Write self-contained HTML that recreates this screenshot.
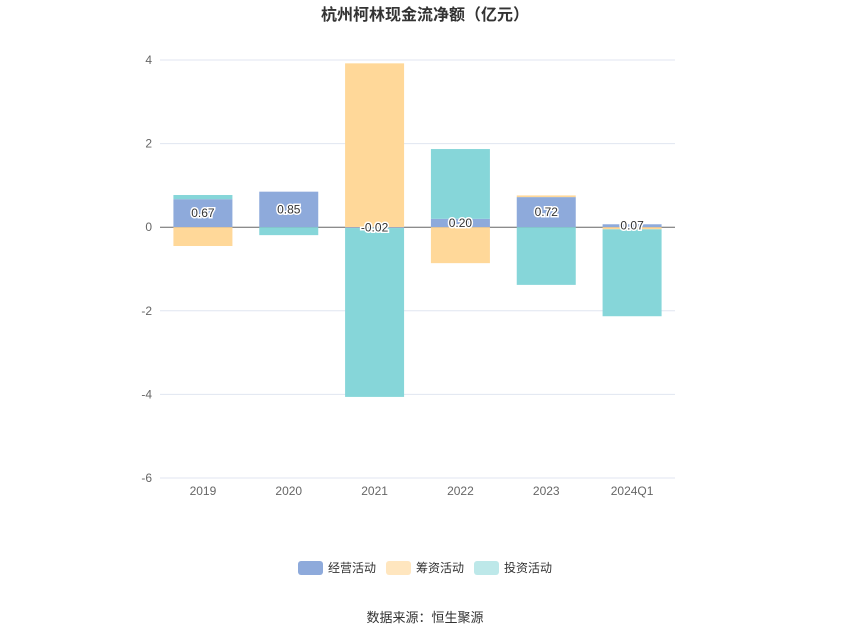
<!DOCTYPE html>
<html><head><meta charset="utf-8"><style>
body{margin:0;background:#fff;font-family:"Liberation Sans","Noto Sans CJK SC",sans-serif;}
</style></head><body>
<svg width="850" height="637" xmlns="http://www.w3.org/2000/svg" font-family="Liberation Sans, Noto Sans CJK SC, sans-serif">
<text x="425" y="20" text-anchor="middle" font-size="16" font-weight="bold" fill="#333">杭州柯林现金流净额（亿元）</text>
<g id="grid"></g><g id="bars"></g><g id="labels"></g>
<g font-size="12" fill="#333">
<g><rect x="298" y="561" width="25" height="14" rx="3" fill="#8eaadb"/><text x="328" y="572">经营活动</text></g>
<g><rect x="386" y="561" width="25" height="14" rx="3" fill="#ffe6bf"/><text x="416" y="572">筹资活动</text></g>
<g><rect x="474" y="561" width="25" height="14" rx="3" fill="#bde8e9"/><text x="504" y="572">投资活动</text></g>
</g>
<text x="425" y="622" text-anchor="middle" font-size="13" fill="#333">数据来源：恒生聚源</text>
</svg>
<script>
const categories=["2019","2020","2021","2022","2023","2024Q1"];
const operating=[0.67,0.85,-0.02,0.20,0.72,0.07];
const financing=[-0.45,0,3.92,-0.86,0.04,-0.05];
const investing=[0.10,-0.19,-4.04,1.67,-1.38,-2.08];
const yTicks=[4,2,0,-2,-4,-6];
const NS="http://www.w3.org/2000/svg";
const x0=160,x1=675,yTop=60,yBot=478,yMax=4,yMin=-6;
const y=v=>yTop+(yMax-v)/(yMax-yMin)*(yBot-yTop);
const band=(x1-x0)/categories.length;
const xc=i=>x0+band*(i+0.5);
function mk(tag,attrs,parent){const e=document.createElementNS(NS,tag);for(const k in attrs)e.setAttribute(k,attrs[k]);parent.appendChild(e);return e;}
const grid=document.getElementById('grid');
yTicks.forEach(t=>{
 const l=mk('line',{x1:x0,x2:x1,y1:y(t),y2:y(t),stroke:t===0?'#666':'#e0e6f1'},grid);
 
 
 const tx=mk('text',{x:152,y:y(t)+4,'text-anchor':'end','font-size':12,fill:'#666'},grid);
 tx.textContent=t;
 
 
});
categories.forEach((c,i)=>{
 const tx=mk('text',{x:xc(i),y:495,'text-anchor':'middle','font-size':12,fill:'#666'},grid);
 tx.textContent=c;
 
 
});
const series=[[operating,'#8eaadb','bar-operating'],[financing,'#ffd899','bar-financing'],[investing,'#86d6d9','bar-investing']];
const bars=document.getElementById('bars');
const bw=59;
categories.forEach((c,i)=>{
 let pos=0,neg=0;
 series.forEach(([arr,col,name])=>{
  const v=arr[i];let a,b;
  if(v>=0){a=pos;b=pos+v;pos=b;}else{a=neg;b=neg+v;neg=b;}
  const top=Math.min(y(a),y(b)),h=Math.abs(y(a)-y(b));
  const r=mk('rect',{x:xc(i)-bw/2,y:top,width:bw,height:h,fill:col},bars);
  
  
 });
 const v=operating[i];
 const t=mk('text',{x:xc(i),y:y(v/2)+4,'text-anchor':'middle','font-size':12,fill:'#333',stroke:'#fff','stroke-width':3,'paint-order':'stroke'},document.getElementById('labels'));
 t.textContent=v.toFixed(2);
 
 
});
</script>
</body></html>
